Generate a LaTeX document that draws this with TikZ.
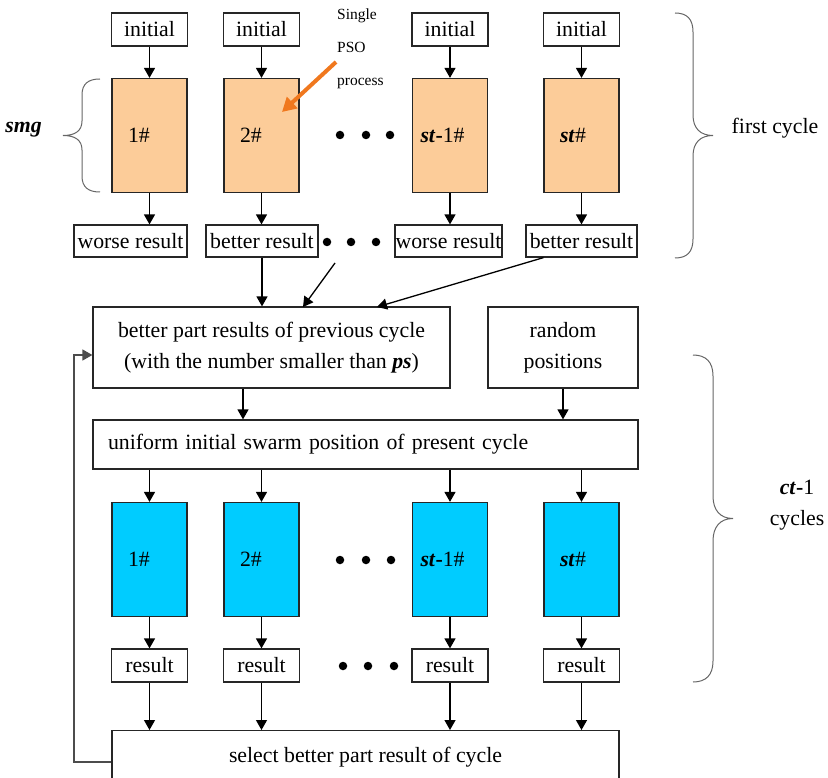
\documentclass[tikz,border=0pt]{standalone}
\usepackage{fontspec}
\setmainfont{Liberation Serif}
\usetikzlibrary{arrows.meta}
\definecolor{peach}{RGB}{252,204,153}
\definecolor{skyc}{RGB}{0,204,255}
\definecolor{psoarrow}{RGB}{240,120,30}
\begin{document}
\begin{tikzpicture}[x=1pt,y=-1pt,
  every node/.style={font=\fontsize{21.8}{31}\selectfont},
  box/.style={draw=black!85, line width=1.2pt, fill=white, inner sep=0pt},
  procbox/.style={box, minimum height=114, text width=43, inner xsep=16, align=left},
  arr/.style={line width=1.3pt, -{Triangle[length=10pt,width=11pt]}},
  bracepath/.style={draw=black!60, line width=1pt},
  dotmark/.style={fill=black, circle, inner sep=0pt, minimum size=8.5pt}]
\useasboundingbox (0,0) rectangle (828,778);
\clip (0,0) rectangle (828,778);

% ---- first cycle ----
\foreach \n/\x in {1/149.5,2/261.5,3/450,4/581.5}{
  \node[box, minimum width=76, minimum height=33] (i\n) at (\x,29.5) {initial};
}
\node[procbox, fill=peach] (o1) at (149.5,135.5) {1\#};
\node[procbox, fill=peach] (o2) at (261.5,135.5) {2\#};
\node[procbox, fill=peach, text width=59, inner xsep=8] (o3) at (450,135.5) {\textbf{\textit{st}-}1\#};
\node[procbox, fill=peach] (o4) at (581.5,135.5) {\textbf{\textit{st}}\#};

\node[box, minimum width=113, minimum height=32] (r1) at (130.5,241) {worse result};
\node[box, minimum width=112, minimum height=32] (r2) at (262,241) {better result};
\node[box, minimum width=107, minimum height=32] (r3) at (448.5,241) {worse result};
\node[box, minimum width=111, minimum height=32] (r4) at (581.5,241) {better result};

\foreach \n in {1,2,3,4}{
  \draw[arr] (i\n) -- (o\n);
  \draw[arr] (o\n.south) -- (o\n.south |- r\n.north);
}
\node[dotmark] (d1) at (340,135) {};
\node[dotmark] (d2) at (366,135) {};
\node[dotmark] (d3) at (390,135) {};
\node[dotmark] (d4) at (327,242) {};
\node[dotmark] (d5) at (351,242) {};
\node[dotmark] (d6) at (376,242) {};

% Single PSO process
\node[font=\fontsize{15.5}{33}\selectfont, align=left, anchor=north west, inner sep=0pt] (pso) at (337,8.5) {Single\\PSO\\process};
\coordinate (psoS) at (336,62);
\coordinate (psoT) at (282,112);
\draw[line width=4pt, psoarrow, -{Triangle[length=14pt,width=15pt]}] (psoS) -- (psoT);

% smg brace and label
\node[font=\fontsize{21.8}{26}\selectfont\bfseries\itshape] (smg) at (23.5,130) {smg};
\draw[bracepath] (100,79) .. controls (88,79) and (82,84) .. (82,95) -- (82,121)
  .. controls (82,131) and (75,135.5) .. (63,135.5)
  .. controls (75,135.5) and (82,140) .. (82,150) -- (82,176)
  .. controls (82,187) and (88,192) .. (100,192);

% first cycle brace
\draw[bracepath] (675,13) .. controls (687,13) and (693,19) .. (693,32) -- (693,115)
  .. controls (693,128) and (700,135.5) .. (713,135.5)
  .. controls (700,135.5) and (693,143) .. (693,156) -- (693,239)
  .. controls (693,252) and (687,258) .. (675,258);
\node (fc) at (775,128) {first cycle};

% ---- middle ----
\node[box, minimum width=357, minimum height=81, align=center] (bp) at (271.5,347.5)
  {better part results of previous cycle\\(with the number smaller than \textbf{\textit{ps}})};
\node[box, minimum width=150, minimum height=81, align=center] (rp) at (563,347.5) {random\\positions};

\draw[arr] (r2.south) -- (r2.south |- bp.north);
\coordinate (dd) at (335,263);
\coordinate (ddT) at (303,307);
\draw[arr] (dd) -- (ddT);
\coordinate (r4T) at (377,307);
\draw[arr] ([xshift=-38pt]r4.south) -- (r4T);

\node[box, text width=515, inner xsep=15, minimum height=49, align=left] (uni) at (365.5,444.5)
  {uniform initial swarm position of present cycle};
\draw[arr] ([xshift=-28.5pt]bp.south) -- ([xshift=-28.5pt]bp.south |- uni.north);
\draw[arr] (rp.south) -- (rp.south |- uni.north);

% ---- ct-1 cycles ----
\node[procbox, fill=skyc] (b1) at (149.5,559.5) {1\#};
\node[procbox, fill=skyc] (b2) at (261.5,559.5) {2\#};
\node[procbox, fill=skyc, text width=59, inner xsep=8] (b3) at (450,559.5) {\textbf{\textit{st}-}1\#};
\node[procbox, fill=skyc] (b4) at (581.5,559.5) {\textbf{\textit{st}}\#};

\foreach \n/\x in {1/149.5,2/261.5,3/450,4/581.5}{
  \node[box, minimum width=76, minimum height=33] (rr\n) at (\x,665.5) {result};
}
\node[box, minimum width=507, minimum height=70, anchor=north] (sel) at (365.5,730) {};
\node (seltext) at (365.5,757) {select better part result of cycle};

\foreach \n in {1,2,3,4}{
  \draw[arr] (b\n.north |- uni.south) -- (b\n.north);
  \draw[arr] (b\n) -- (rr\n);
  \draw[arr] (rr\n.south) -- (rr\n.south |- sel.north);
}
\node[dotmark] (e1) at (340,560) {};
\node[dotmark] (e2) at (366,560) {};
\node[dotmark] (e3) at (391,560) {};
\node[dotmark] (e4) at (343,666) {};
\node[dotmark] (e5) at (368,666) {};
\node[dotmark] (e6) at (394,666) {};

% feedback loop
\coordinate (fbL) at (74,762);
\coordinate (fbU) at (74,355);
\draw[line width=1.3pt, draw=black!70, -{Triangle[length=10pt,width=11pt]}]
  (sel.west |- fbL) -- (fbL) -- (fbU) -- (bp.west |- fbU);

% ct-1 brace
\draw[bracepath] (693,355) .. controls (706,355) and (713,362) .. (713,376) -- (713,496)
  .. controls (713,510) and (720,518.5) .. (733,518.5)
  .. controls (720,518.5) and (713,527) .. (713,541) -- (713,661)
  .. controls (713,675) and (706,682) .. (693,682);
\node (ct) at (797,487) {\textbf{\textit{ct}-}1};
\node (cy) at (797,520) {cycles};
\end{tikzpicture}
\end{document}
